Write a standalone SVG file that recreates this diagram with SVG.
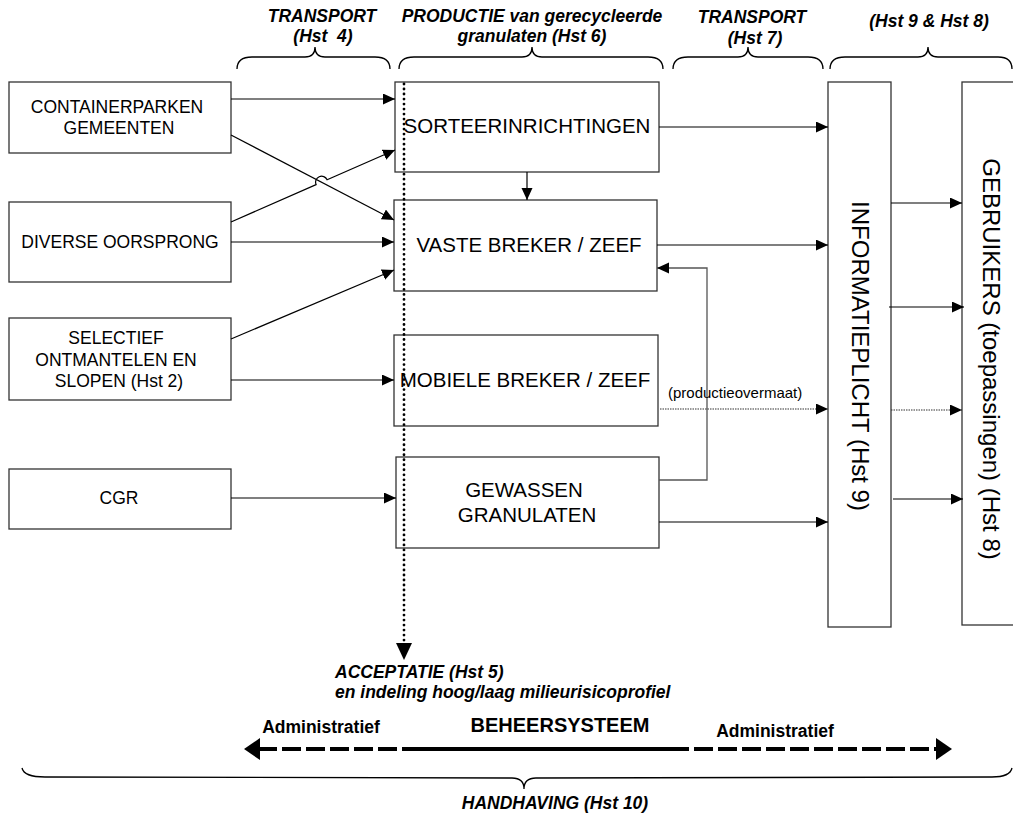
<svg xmlns="http://www.w3.org/2000/svg" width="1013" height="814" viewBox="0 0 1013 814">
<style>
text{font-family:"Liberation Sans",Arial,sans-serif;fill:#000}
.box{fill:#fff;stroke:#333;stroke-width:1.3}
.lt{font-size:17.5px;text-anchor:middle}
.mt{font-size:20.5px;text-anchor:middle}
.rt{font-size:24px;text-anchor:middle}
.hd{font-size:17.5px;font-weight:bold;font-style:italic;text-anchor:middle}
.bb{font-weight:bold;text-anchor:middle}
.c{fill:none;stroke:#000;stroke-width:1.2}
.g{fill:none;stroke:#555;stroke-width:1.3}
.dot{fill:none;stroke:#333;stroke-width:1.2;stroke-dasharray:1.5 1}
.brace{fill:none;stroke:#000;stroke-width:1.3}
</style>
<defs>
<marker id="ah" markerUnits="userSpaceOnUse" markerWidth="13" markerHeight="12" refX="12" refY="5.5" orient="auto" viewBox="0 0 13 12"><path d="M0,0 L12,5.5 L0,11 z" fill="#000"/></marker>
</defs>
<rect width="1013" height="814" fill="#fff"/>

<g id="headers">
<path class="brace" d="M237,69 Q237,57 252,57 L305,57 Q315,57 315,47 Q315,57 325,57 L375,57 Q390,57 390,69"/>
<path class="brace" d="M399,69 Q399,57 414,57 L522,57 Q532,57 532,47 Q532,57 542,57 L648,57 Q663,57 663,69"/>
<path class="brace" d="M673,69 Q673,57 688,57 L738,57 Q748,57 748,47 Q748,57 758,57 L808,57 Q823,57 823,69"/>
<path class="brace" d="M830,69 Q830,57 845,57 L918,57 Q928,57 928,47 Q928,57 938,57 L998,57 Q1012,57 1012,69"/>
<text class="hd" x="322" y="22">TRANSPORT</text>
<text class="hd" x="323" y="42" xml:space="preserve">(Hst  4)</text>
<text class="hd" x="532" y="22">PRODUCTIE van gerecycleerde</text>
<text class="hd" x="532" y="42">granulaten (Hst 6)</text>
<text class="hd" x="752" y="23">TRANSPORT</text>
<text class="hd" x="755" y="44">(Hst 7)</text>
<text class="hd" x="929" y="27">(Hst 9 &amp; Hst 8)</text>
</g>

<g id="containerparken">
<rect class="box" x="9" y="82" width="222" height="71"/>
<text class="lt" x="117" y="113">CONTAINERPARKEN</text>
<text class="lt" x="119" y="134">GEMEENTEN</text>
</g>
<g id="diverse">
<rect class="box" x="9" y="202" width="222" height="80"/>
<text class="lt" x="120" y="248">DIVERSE OORSPRONG</text>
</g>
<g id="selectief">
<rect class="box" x="9" y="318" width="222" height="82"/>
<text class="lt" x="116" y="344">SELECTIEF</text>
<text class="lt" x="116" y="366">ONTMANTELEN EN</text>
<text class="lt" x="119" y="387">SLOPEN (Hst 2)</text>
</g>
<g id="cgr">
<rect class="box" x="9" y="469" width="222" height="60"/>
<text class="lt" x="119" y="504">CGR</text>
</g>

<g id="sorteer">
<rect class="box" x="395" y="82" width="264" height="90"/>
<text class="mt" x="527" y="133">SORTEERINRICHTINGEN</text>
</g>
<g id="vaste">
<rect class="box" x="394" y="200" width="263" height="91"/>
<text class="mt" x="529" y="252">VASTE BREKER / ZEEF</text>
</g>
<g id="mobiele">
<rect class="box" x="394" y="335" width="264" height="91"/>
<text class="mt" x="525" y="387">MOBIELE BREKER / ZEEF</text>
</g>
<g id="gewassen">
<rect class="box" x="396" y="457" width="263" height="91"/>
<text class="mt" x="524" y="497">GEWASSEN</text>
<text class="mt" x="527" y="522">GRANULATEN</text>
</g>

<g id="informatieplicht">
<rect class="box" x="828" y="82" width="63" height="545"/>
<text class="rt" transform="translate(852,356) rotate(90)">INFORMATIEPLICHT (Hst 9)</text>
</g>
<g id="gebruikers">
<rect class="box" x="962" y="82" width="60" height="543"/>
<text class="rt" transform="translate(983,359) rotate(90)">GEBRUIKERS (toepassingen) (Hst 8)</text>
</g>

<g id="connectors">
<path class="c" d="M231,99 L395,99" marker-end="url(#ah)"/>
<path class="c" d="M231,135 L394,220" marker-end="url(#ah)"/>
<path class="c" d="M231,222 L316.1,184.6 A6,6 0 0 1 327.1,179.8 L395,150" marker-end="url(#ah)"/>
<path class="c" d="M231,242 L394,242" marker-end="url(#ah)"/>
<path class="c" d="M231,339 L394,270" marker-end="url(#ah)"/>
<path class="c" d="M231,380 L394,380" marker-end="url(#ah)"/>
<path class="c" d="M231,498 L396,498" marker-end="url(#ah)"/>
<path class="c" d="M527,172 L527,200" marker-end="url(#ah)"/>
<path class="c" d="M659,127 L828,127" marker-end="url(#ah)"/>
<path class="c" d="M657,245 L828,245" marker-end="url(#ah)"/>
<path class="g" d="M659,480 L707,480 L707,268 L657,268" marker-end="url(#ah)"/>
<path class="dot" d="M660,409 L828,409" marker-end="url(#ah)"/>
<text x="668" y="398" style="font-size:15px">(productieovermaat)</text>
<path class="c" d="M659,522 L828,522" marker-end="url(#ah)"/>
<path class="c" d="M891,203 L962,203" marker-end="url(#ah)"/>
<path class="c" d="M889,307 L964,307" marker-end="url(#ah)"/>
<path class="dot" d="M891,410 L962,410" marker-end="url(#ah)"/>
<path class="c" d="M893,499 L963,499" marker-end="url(#ah)"/>
<path d="M404,84 L404,644" fill="none" stroke="#000" stroke-width="2.8" stroke-linecap="round" stroke-dasharray="0.01 5"/>
<path d="M396,643 L412,643 L404,660 z" fill="#000"/>
</g>

<g id="acceptatie">
<text class="hd" x="335" y="678" style="text-anchor:start">ACCEPTATIE (Hst 5)</text>
<text class="hd" x="335" y="698" style="text-anchor:start">en indeling hoog/laag milieurisicoprofiel</text>
</g>

<g id="beheersysteem">
<text class="bb" x="321" y="733" style="font-size:17.5px">Administratief</text>
<text class="bb" x="560" y="732" style="font-size:20px">BEHEERSYSTEEM</text>
<text class="bb" x="775" y="737" style="font-size:17.5px">Administratief</text>
<path d="M258,749 L407,749" fill="none" stroke="#000" stroke-width="4" stroke-dasharray="19 5"/>
<path d="M407,749 L670,749" fill="none" stroke="#000" stroke-width="4"/>
<path d="M670,749 L938,749" fill="none" stroke="#000" stroke-width="4" stroke-dasharray="19 5"/>
<path d="M244,749 L260,738 L260,760 z" fill="#000"/>
<path d="M952,749 L936,738 L936,760 z" fill="#000"/>
</g>

<g id="handhaving">
<path class="brace" d="M22,768 Q24,777 45,777 L512,778 Q524,778 524,789 Q524,778 536,778 L992,777 Q1010,777 1012,768"/>
<text class="hd" x="555" y="809">HANDHAVING (Hst 10)</text>
</g>
</svg>
